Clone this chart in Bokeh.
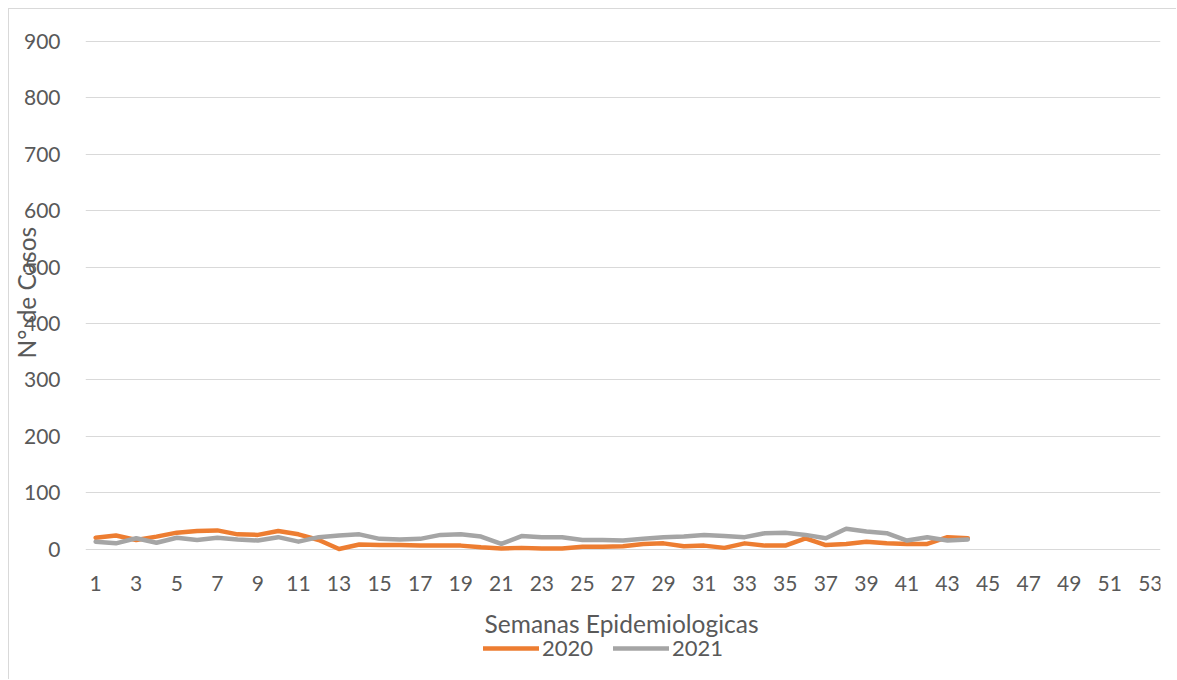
from bokeh.plotting import figure
from bokeh.models import Range1d, FixedTicker, Legend, LegendItem, Label, Title
from bokeh.embed import file_html
from bokeh.resources import INLINE

weeks = list(range(1, 45))
casos_2020 = [20, 24, 16, 22, 29, 32, 33, 26, 25, 32, 26, 16, 0, 8, 7, 7,
              6, 6, 6, 3, 1, 2, 1, 1, 4, 4, 5, 9, 10, 5, 6, 2, 10, 6, 6,
              19, 7, 9, 13, 10, 9, 9, 21, 19]
casos_2021 = [13, 10, 19, 11, 20, 16, 20, 17, 15, 21, 13, 21, 24, 26, 18,
              17, 18, 25, 26, 22, 9, 23, 21, 21, 16, 16, 15, 18, 21, 22,
              25, 23, 21, 28, 29, 25, 19, 36, 31, 28, 15, 21, 15, 17]
x_ticks = list(range(1, 54, 2))
y_ticks = list(range(0, 901, 100))
series_names = ["2020", "2021"]
x_title = "Semanas Epidemiologicas"
y_title = "N° de Casos"

FONT = "Lato"
FS_NUM = "21px"
FS_LEG = "22px"
FS_TITLE = "24.5px"
TXT = "#595959"
ORANGE = "#ED7D31"
GRAY = "#A5A5A5"
GRID = "#d9d9d9"

PX = 0.5639  # pixels per unit on the value axis

p = figure(width=1168, height=671, output_backend="svg", toolbar_location=None,
           x_range=Range1d(0.5, 53.5),
           y_range=Range1d(-(131.5 / PX), 900 + 1 / PX),
           x_axis_location=None,
           min_border_left=76, min_border_right=17, min_border_top=31,
           min_border_bottom=0)
p.styles = {"margin-left": "8px", "margin-top": "8px",
            "border-left": "1px solid " + GRID, "border-top": "1px solid " + GRID}
p.outline_line_color = None
p.xgrid.grid_line_color = None
p.ygrid.grid_line_color = GRID
p.ygrid.grid_line_width = 1

p.yaxis.ticker = FixedTicker(ticks=y_ticks)
ax = p.yaxis[0]
ax.major_tick_line_color = None
ax.minor_tick_line_color = None
ax.axis_line_color = None
ax.major_label_text_font = FONT
ax.major_label_text_font_size = FS_NUM
ax.major_label_text_color = TXT
ax.major_label_standoff = 19

# value-axis title: starts at the middle of the 0..900 area, overlapping tick labels
p.add_layout(Title(text=y_title, align="left", offset=322, standoff=-40,
                   text_font=FONT, text_font_size=FS_TITLE, text_color=TXT,
                   text_font_style="normal"), "left")

# category (week) labels under the value 0 line
p.text(x=x_ticks, y=[-(34.5 / PX)] * len(x_ticks), text=[str(t) for t in x_ticks],
       text_font={"value": FONT}, text_font_size=FS_NUM, text_color=TXT,
       text_align="center", text_baseline="middle")

p.add_layout(Label(x=26.93, y=-(74.5 / PX), text=x_title, text_font=FONT,
                   text_font_size=FS_TITLE, text_color=TXT,
                   text_align="center", text_baseline="middle"))

r1 = p.line(weeks, casos_2020, line_color=ORANGE, line_width=4.5,
            line_join="round", line_cap="round")
r2 = p.line(weeks, casos_2021, line_color=GRAY, line_width=4.5,
            line_join="round", line_cap="round")

legend = Legend(items=[LegendItem(label=series_names[0], renderers=[r1]),
                       LegendItem(label=series_names[1], renderers=[r2])],
                orientation="horizontal", location=(398, 19),
                glyph_width=56, glyph_height=20, label_standoff=3, spacing=20,
                label_text_font=FONT, label_text_font_size=FS_LEG,
                label_text_color=TXT, background_fill_alpha=0,
                border_line_color=None, padding=0, margin=0)
p.add_layout(legend, "center")

open("out.html", "w").write(file_html(p, INLINE))
